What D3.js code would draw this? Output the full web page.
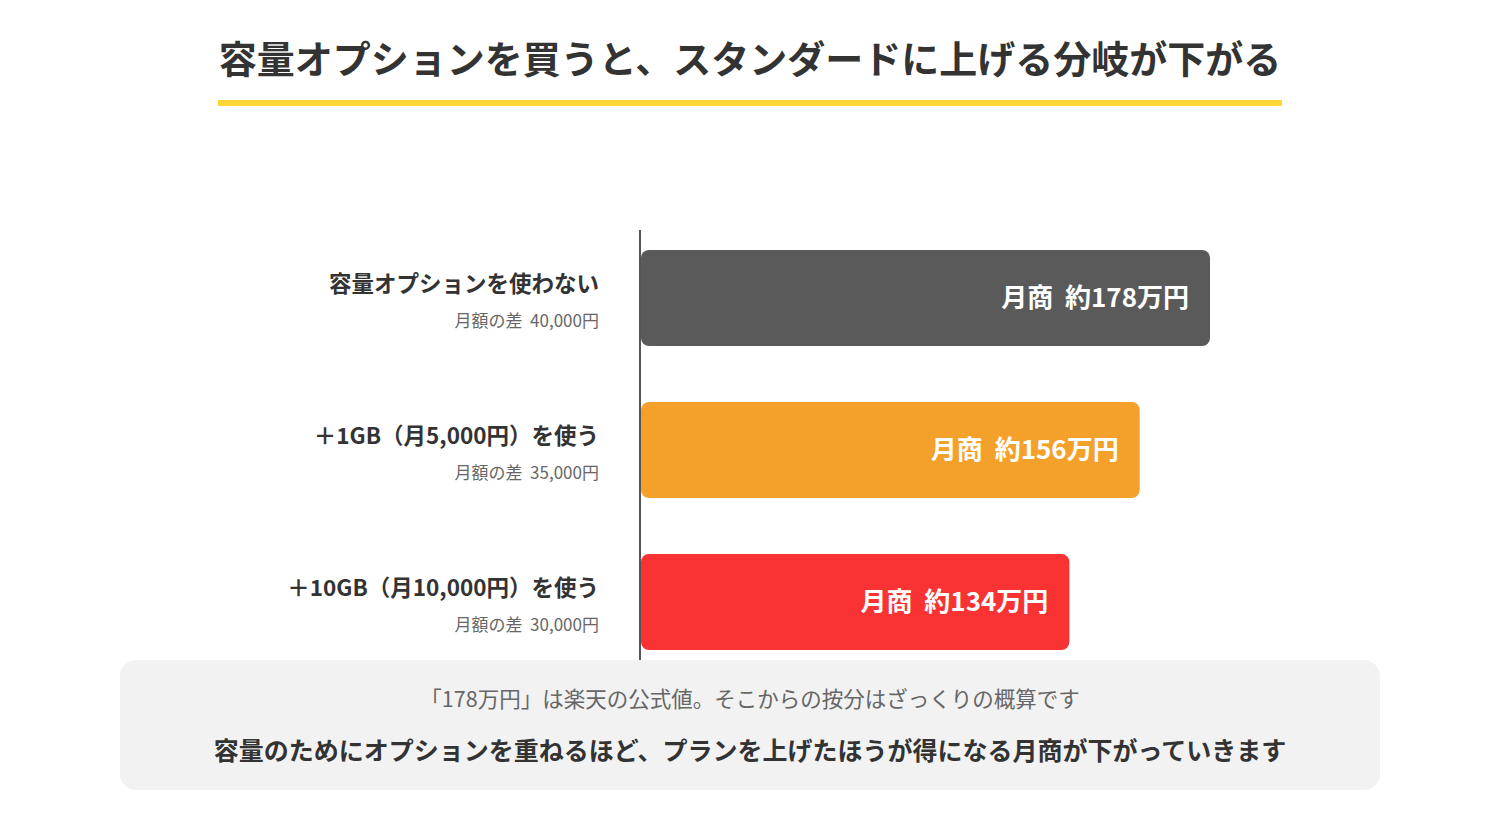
<!DOCTYPE html>
<html><head><meta charset="utf-8">
<script src="https://cdn.jsdelivr.net/npm/d3@7"></script>
<style>
html,body{margin:0;padding:0;background:#fff;}
svg{display:block;font-family:"Noto Sans CJK JP","Noto Sans",sans-serif;}
</style></head>
<body>
<script>
const titleText = "容量オプションを買うと、スタンダードに上げる分岐が下がる";
const categories = ["容量オプションを使わない", "＋1GB（月5,000円）を使う", "＋10GB（月10,000円）を使う"];
const subLabels = ["月額の差  40,000円", "月額の差  35,000円", "月額の差  30,000円"];
const values = [178, 156, 134];
const valueLabels = ["月商  約178万円", "月商  約156万円", "月商  約134万円"];
const colors = ["#5a5a5a", "#f4a12b", "#f93333"];
const noteLines = ["「178万円」は楽天の公式値。そこからの按分はざっくりの概算です",
                   "容量のためにオプションを重ねるほど、プランを上げたほうが得になる月商が下がっていきます"];

const W = 1500, H = 820;
const svg = d3.select("body").append("svg").attr("width", W).attr("height", H);

// title
svg.append("text").attr("x", 750).attr("y", 73).attr("text-anchor", "middle")
  .attr("font-size", 38).attr("font-weight", 700).attr("fill", "#333").text(titleText);
svg.append("rect").attr("x", 218).attr("y", 100).attr("width", 1064).attr("height", 6).attr("fill", "#ffd633");

const x = d3.scaleLinear().domain([0, 178]).range([641, 1210]);
const y = d3.scaleBand().domain(categories).range([230, 670]).paddingInner(0.3684).paddingOuter(0.1316);

// bars
svg.selectAll("rect.bar").data(values).join("rect").attr("class", "bar")
  .attr("x", x(0)).attr("y", (d, i) => y(categories[i]))
  .attr("width", d => x(d) - x(0)).attr("height", y.bandwidth())
  .attr("rx", 8).attr("fill", (d, i) => colors[i]);

// value labels
svg.selectAll("text.val").data(values).join("text").attr("class", "val")
  .attr("x", d => x(d) - 21).attr("y", (d, i) => y(categories[i]) + y.bandwidth() / 2 + 9)
  .attr("text-anchor", "end").attr("font-size", 26).attr("font-weight", 700).attr("fill", "#fff")
  .style("white-space", "pre")
  .text((d, i) => valueLabels[i]);

// category labels
svg.selectAll("text.cat").data(categories).join("text").attr("class", "cat")
  .attr("x", 599).attr("y", d => y(d) + y.bandwidth() / 2 - 6)
  .attr("text-anchor", "end").attr("font-size", 22.5).attr("font-weight", 700).attr("fill", "#333")
  .text(d => d);
svg.selectAll("text.sub").data(subLabels).join("text").attr("class", "sub")
  .attr("x", 599).attr("y", (d, i) => y(categories[i]) + y.bandwidth() / 2 + 29)
  .attr("text-anchor", "end").attr("font-size", 17).attr("fill", "#666")
  .style("white-space", "pre")
  .text(d => d);

// axis line
svg.append("line").attr("x1", 640).attr("x2", 640).attr("y1", 230).attr("y2", 662)
  .attr("stroke", "#555").attr("stroke-width", 2);

// note box
svg.append("rect").attr("x", 120).attr("y", 660).attr("width", 1260).attr("height", 130)
  .attr("rx", 16).attr("fill", "#f2f2f2");
svg.append("text").attr("x", 750).attr("y", 707).attr("text-anchor", "middle")
  .attr("font-size", 21.5).attr("fill", "#666").text(noteLines[0]);
svg.append("text").attr("x", 750).attr("y", 760).attr("text-anchor", "middle")
  .attr("font-size", 25).attr("font-weight", 700).attr("fill", "#333").text(noteLines[1]);
</script>
</body></html>
